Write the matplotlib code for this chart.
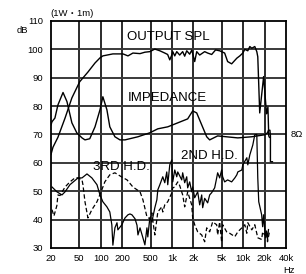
import matplotlib
matplotlib.use("Agg")
from matplotlib import pyplot as plt
from matplotlib import font_manager

# ---- data ----
spl_f = [20, 21.3, 25, 31.5, 39.3, 50.6, 66, 83, 97.5, 107, 148, 205, 241, 283, 356,
         417, 489, 575, 676, 793, 870, 932, 994, 1026, 1095, 1168, 1285, 1415, 1510,
         1613, 1775, 1895, 1956, 2087, 2228, 2453, 2883, 3175, 3616, 4100, 4680, 5500,
         6057, 6897, 8160, 8986, 9897, 10560, 11630, 12410, 13240, 14580, 15560, 16060,
         17100, 19400, 21320, 22300, 22900, 23400]
spl_db = [63, 65.5, 69, 75.8, 82.9, 88.6, 92, 95.2, 97, 97.7, 98.4, 98.4, 97.7, 98.7,
          98.5, 99, 99.2, 100.1, 99.5, 98.7, 98.2, 96.3, 98.0, 99.2, 97.7, 99.2, 98.0,
          99.2, 97.6, 99.5, 98.3, 99.7, 98.5, 95.7, 99.2, 98.0, 99.2, 98.7, 98.2, 99.8,
          99.5, 98.7, 95.7, 94.9, 96.9, 97.7, 98.7, 100, 99.5, 101, 100.4, 101, 99.2,
          97.4, 77.6, 90.4, 77.3, 79.7, 69.5, 69]

imp_f = [20, 20.65, 22.7, 25, 29.5, 33.5, 39.3, 46, 54.5, 60, 70, 83, 97.5, 107, 122,
         134, 158, 186, 219, 333, 489, 633, 873, 1206, 1663, 1956, 2228, 2618, 3077,
         3388, 4386, 8420, 13240, 20020, 22000, 22700, 23800, 24180, 24180, 25800]
imp_db = [73.4, 74.5, 75.8, 80.4, 84.8, 81.6, 74.1, 70.6, 68.8, 68.1, 68.5, 72.7,
          78.7, 83.3, 78.7, 72.7, 69.2, 68.1, 68.1, 69.2, 70.6, 72, 72.7, 74.1, 75.5,
          78.3, 77.6, 73.4, 69.2, 68.1, 69.5, 68.8, 69.2, 69.9, 70.6, 71.5, 71.5,
          69.5, 60.4, 60.4]

hd2_f = [20.65, 24.2, 28.5, 31.5, 36.9, 47.9, 54.5, 64, 75, 88.5, 97.5, 107, 122, 134,
         143, 148, 158, 169, 174, 198, 219, 241, 257, 274, 303, 323, 333, 356, 391,
         417, 445, 458, 489, 522, 575, 614, 633, 676, 743, 793, 846, 873, 932, 994,
         1026, 1095, 1168, 1206, 1372, 1415, 1510, 1613, 1663, 1775, 1895, 1956, 2087,
         2299, 2453, 2618, 2702, 2883, 3175, 3388, 3616, 3982, 4250, 4386, 4680, 4994,
         5154, 5500, 6057, 6897, 7646, 8160, 8420, 9590, 9897, 11270, 11630, 12410,
         13670, 14580, 15560, 16060, 16570, 18210, 18800, 19400, 20020, 20660, 21320,
         22000, 22710]
hd2_db = [51.5, 49.8, 48.7, 49.8, 52.3, 54.7, 54.7, 56.1, 54.7, 52.3, 48.7, 46.3,
          44.5, 42.7, 38.2, 31, 37.1, 38.9, 36.4, 38.2, 40.6, 41.7, 42, 41.7, 40.3,
          38, 34.6, 37.1, 33.6, 31.1, 37.1, 33.9, 40.6, 39.2, 44.2, 47, 50.5, 52.3,
          55.1, 53, 56.8, 52.3, 59.3, 61, 53.3, 57.5, 55.1, 56.8, 54, 56.5, 53, 55.1,
          51.2, 53.3, 49.8, 51.5, 47.7, 49.8, 45.2, 48.7, 44.2, 47.5, 45.9, 48.7,
          49.5, 51.2, 54.7, 56.5, 54.7, 57.5, 55.1, 53.3, 54, 53.3, 54.7, 55.8, 56.8,
          57.5, 59.3, 61.8, 59.3, 62.8, 66.3, 69.9, 70, 54.7, 46.3, 41.7, 37.5, 41.7,
          37.1, 33.6, 36, 33, 36.5]

hd3_f = [20.65, 22, 24.2, 25, 26.8, 31.5, 36.9, 43.4, 47.9, 54.5, 56.2, 60, 66, 75,
         88.5, 101, 114, 134, 158, 198, 234, 283, 356, 391, 445, 489, 522, 539, 575,
         633, 720, 743, 793, 873, 994, 1026, 1095, 1206, 1285, 1415, 1510, 1663, 1895,
         1956, 2087, 2299, 2618, 2883, 3077, 3388, 3732, 4250, 4386, 4680, 4994, 5154,
         5869, 6463, 7646, 8420, 9590, 10560, 11270, 11630, 13240, 14580, 16060, 18210,
         18800, 20020, 21320, 22000, 23430]
hd3_db = [43.5, 41.3, 45, 48.7, 48.5, 51.5, 53.3, 54.7, 54.7, 54, 52.3, 46.3, 40.6,
          43.5, 46.3, 49.8, 53.3, 55.8, 56.5, 55, 54, 51.5, 49.8, 47, 41, 40.3, 42.4,
          39.6, 34.6, 42.7, 44.5, 42.7, 45.2, 46.3, 49.4, 51.2, 51.5, 53.3, 52, 48.7,
          44.5, 49.8, 45.2, 40.6, 38.2, 35.7, 34.6, 32.2, 37.1, 35.7, 39.2, 38.2, 34.6,
          39.2, 32, 38.2, 35.7, 35.2, 34, 35.7, 37.1, 38.2, 35.2, 38.9, 36.4, 38.2,
          33.6, 33, 35.7, 34.6, 35.7, 32.2, 35.7]

xticks = [20, 50, 100, 200, 500, 1000, 2000, 5000, 10000, 20000, 40000]
xlabels = ["20", "50", "100", "200", "500", "1k", "2k", "5k", "10k", "20k", "40k"]
yticks = [30, 40, 50, 60, 70, 80, 90, 100, 110]

names = {f.name for f in font_manager.fontManager.ttflist}
narrow = "Liberation Sans Narrow" if "Liberation Sans Narrow" in names else "Liberation Sans"
plt.rcParams['font.family'] = [narrow, 'Noto Sans CJK JP', 'DejaVu Sans']

fig = plt.figure(figsize=(3.06, 2.74), dpi=100)
ax = fig.add_axes([0.1667, 0.0949, 0.7679, 0.8285])

ax.plot(spl_f, spl_db, color='black', lw=1.0)
ax.plot(imp_f, imp_db, color='black', lw=1.0)
ax.plot(hd2_f, hd2_db, color='black', lw=0.9)
ax.plot(hd3_f, hd3_db, color='black', lw=0.9, linestyle=(0, (3.5, 2)))

ax.set_xscale('log')
ax.set_xlim(20, 40000)
ax.set_ylim(30, 110)
ax.set_xticks(xticks)
ax.set_xticklabels(xlabels)
ax.minorticks_off()
ax.set_yticks(yticks)
ax.tick_params(length=0, labelsize=6.8)
ax.tick_params(axis='y', pad=5.5)
ax.tick_params(axis='x', pad=4)

for v in xticks[1:-1]:
    ax.axvline(v, color='#111111', lw=1.25, zorder=0)
for v in yticks[1:-1]:
    ax.axhline(v, color='#3a3a3a', lw=1.4, zorder=0)
for s in ax.spines.values():
    s.set_linewidth(1.3)

big = dict(family='Liberation Sans', fontsize=9.5, va='center', ha='left')
ax.text(233, 104.4, "OUTPUT SPL", **big)
ax.text(241, 82.9, "IMPEDANCE", **big)
ax.text(77.6, 58.6, "3RD H.D.", **big)
ax.text(1330, 62.5, "2ND H.D.", **big)

ax.text(-0.123, 0.958, "dB", transform=ax.transAxes, fontsize=6.8, ha='center', va='center')
ax.text(-0.004, 1.033, "(1W・1m)", transform=ax.transAxes, fontsize=6.8, ha='left', va='center')
ax.text(1.013, -0.101, "Hz", transform=ax.transAxes, fontsize=6.8, ha='center', va='center')
ax.text(1.021, 0.5, "8Ω", transform=ax.transAxes, fontsize=6.8, ha='left', va='center')

fig.savefig('out.png', dpi=100)
